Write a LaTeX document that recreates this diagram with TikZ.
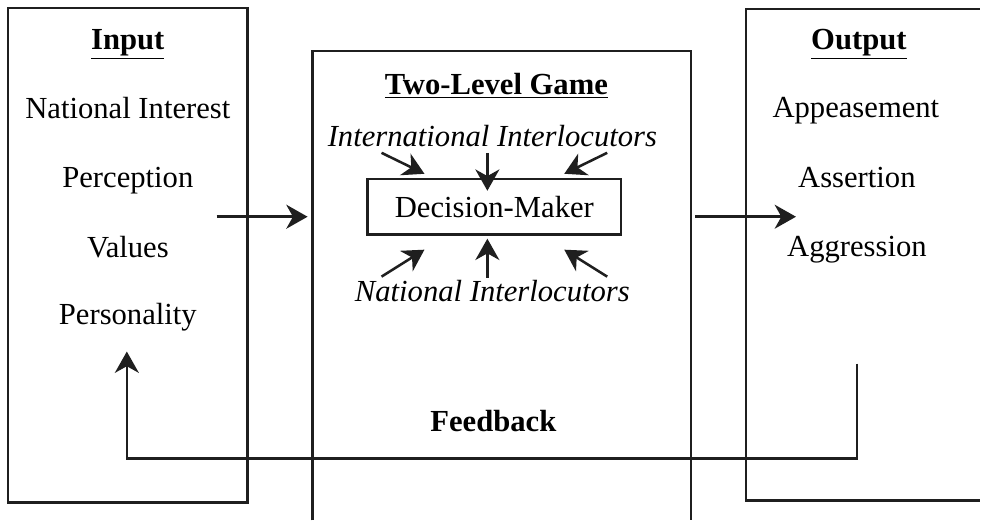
\documentclass[tikz,border=0pt]{standalone}
\usepackage{fontspec}
\setmainfont{Liberation Serif}
\usetikzlibrary{arrows.meta}

\begin{document}
\begin{tikzpicture}[x=0.75pt,y=0.75pt,yscale=-1,xscale=1,
  every node/.style={font=\fontsize{23}{27}\selectfont,inner sep=0pt},
  ln/.style={line width=1.9,draw=black!88},
  arr/.style={ln,-{Stealth[length=16pt,width=18pt,inset=5pt,fill=black!88]}}]
\path (0,0) rectangle (981,521);

%Shape: Rectangle [input box]
\draw [ln] (8,8) rectangle (248,503) ;
%Straight Lines [game box, open at the bottom]
\draw [ln] (313,521) -- (313,51) -- (692,51) -- (692,521) ;
%Straight Lines [output box, open at the right]
\draw [ln] (981,9) -- (747,9) -- (747,501) -- (981,501) ;

%Input column
\node [anchor=base] (inTitle) at (128,50) {\underline{\textbf{Input}}};
\node [anchor=base] (natInt) at (128,119) {National Interest};
\node [anchor=base] (percep) at (128,188) {Perception};
\node [anchor=base] (values) at (128,258) {Values};
\node [anchor=base] (person) at (128,325) {Personality};

%Output column
\node [anchor=base] (outTitle) at (860,50) {\underline{\textbf{Output}}};
\node [anchor=base] (appease) at (857,118) {Appeasement};
\node [anchor=base] (assert) at (858,188) {Assertion};
\node [anchor=base] (aggress) at (858,257) {Aggression};

%Two-level game
\node [anchor=base] (gameTitle) at (497,95) {\underline{\textbf{Two-Level Game}}};
\node [anchor=base] (intlInt) at (493,147) {\itshape International Interlocutors};
\node [draw,ln,minimum width=190.5pt,minimum height=42pt] (dm) at (495,207) {Decision-Maker};
\node [anchor=base] (natlInt) at (493,302) {\itshape National Interlocutors};
\node [anchor=base] (fbText) at (494,432) {\textbf{Feedback}};

%Arrow ends
\coordinate (inS) at (217,217);
\coordinate (inE) at (308,217);
\coordinate (outS) at (696,217);
\coordinate (outE) at (797,217);
\coordinate (tlS) at (382,153);
\coordinate (tlE) at (425,174);
\coordinate (tmS) at (488,153);
\coordinate (tmE) at (488,191);
\coordinate (trS) at (608,153);
\coordinate (trE) at (565,174);
\coordinate (blS) at (382,277);
\coordinate (blE) at (425,250);
\coordinate (bmS) at (488,278);
\coordinate (bmE) at (488,239);
\coordinate (brS) at (608,277);
\coordinate (brE) at (565,250);
\coordinate (fbS) at (858,364);
\coordinate (fbM) at (127,459);
\coordinate (fbE) at (127,352);

%Straight Lines [arrows]
\draw [arr] (inS) -- (inE) ;
\draw [arr] (outS) -- (outE) ;
\draw [arr] (tlS) -- (tlE) ;
\draw [arr] (tmS) -- (tmE) ;
\draw [arr] (trS) -- (trE) ;
\draw [arr] (blS) -- (blE) ;
\draw [arr] (bmS) -- (bmE) ;
\draw [arr] (brS) -- (brE) ;
%Straight Lines [feedback loop]
\draw [arr] (fbS) |- (fbM) -- (fbE) ;

\end{tikzpicture}
\end{document}
